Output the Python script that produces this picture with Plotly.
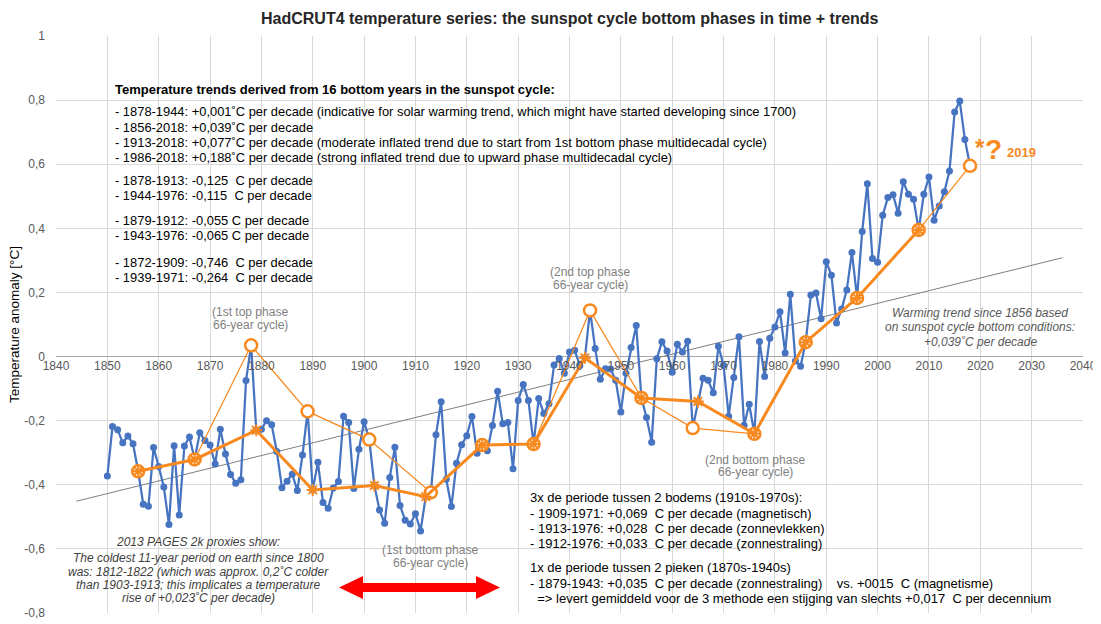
import plotly.graph_objects as go
import numpy as np

# ---------------- data ----------------
years = list(range(1850, 2019))
anomaly = [
    -0.373, -0.218, -0.228, -0.269, -0.248, -0.272, -0.358, -0.461, -0.467, -0.284,
    -0.343, -0.407, -0.524, -0.278, -0.494, -0.279, -0.251, -0.321, -0.238, -0.262,
    -0.276, -0.335, -0.227, -0.304, -0.368, -0.395, -0.384, -0.075, 0.035, -0.230,
    -0.227, -0.200, -0.213, -0.296, -0.409, -0.389, -0.367, -0.418, -0.307, -0.171,
    -0.416, -0.330, -0.455, -0.473, -0.410, -0.390, -0.186, -0.206, -0.412, -0.289,
    -0.203, -0.259, -0.402, -0.479, -0.520, -0.377, -0.283, -0.465, -0.511, -0.522,
    -0.490, -0.544, -0.437, -0.424, -0.244, -0.141, -0.383, -0.468, -0.333, -0.275,
    -0.247, -0.187, -0.302, -0.276, -0.294, -0.215, -0.108, -0.210, -0.206, -0.350,
    -0.137, -0.087, -0.137, -0.273, -0.131, -0.178, -0.147, -0.026, -0.006, -0.052,
    0.014, 0.020, -0.027, -0.004, 0.144, 0.025, -0.071, -0.038, -0.039, -0.074,
    -0.173, -0.052, 0.028, 0.097, -0.129, -0.190, -0.267, -0.007, 0.046, 0.017,
    -0.049, 0.038, 0.014, 0.048, -0.223, -0.140, -0.068, -0.074, -0.113, 0.032,
    -0.027, -0.186, -0.065, 0.062, -0.214, -0.149, -0.241, 0.047, -0.062, 0.057,
    0.092, 0.140, 0.011, 0.194, -0.014, -0.030, 0.045, 0.192, 0.198, 0.118,
    0.296, 0.254, 0.105, 0.148, 0.208, 0.325, 0.183, 0.390, 0.539, 0.306,
    0.294, 0.441, 0.496, 0.505, 0.447, 0.545, 0.506, 0.491, 0.395, 0.506,
    0.560, 0.425, 0.470, 0.514, 0.579, 0.763, 0.797, 0.677, 0.595,
]

# sunspot-cycle bottom years (thin line, open circles)
bottom_years = [1856, 1867, 1878, 1889, 1901, 1913, 1923, 1933, 1944, 1954,
                1964, 1976, 1986, 1996, 2008, 2018]
# alternative bottom years (thick line, star markers)
alt_bottom_years = [1856, 1867, 1879, 1890, 1902, 1912, 1923, 1933, 1943, 1954,
                    1965, 1976, 1986, 1996, 2008]

x_ticks = list(range(1840, 2041, 10))
y_ticks = [-0.8, -0.6, -0.4, -0.2, 0, 0.2, 0.4, 0.6, 0.8, 1]
y_tick_labels = ["-0,8", "-0,6", "-0,4", "-0,2", "0", "0,2", "0,4", "0,6", "0,8", "1"]

lookup = dict(zip(years, anomaly))
bottom_vals = [lookup[y] for y in bottom_years]
alt_bottom_vals = [lookup[y] for y in alt_bottom_years]

# linear trend of the 16 bottom years, extended back 12 and forward 18 years
slope, intercept = np.polyfit(bottom_years, bottom_vals, 1)
trend_x = [bottom_years[0] - 12, bottom_years[-1] + 18]
trend_y = [slope * x + intercept for x in trend_x]

# ---------------- styling ----------------
OFF = 8                      # page body margin
W, H = 1101 - OFF, 624 - OFF
L, R, T, B = 56 - OFF, 18, 36 - OFF, 11
PW, PH = W - L - R, H - T - B
PLOT_LEFT = L + OFF
PLOT_BOTTOM = OFF + H - B
BLUE = "#4674C1"
ORANGE = "#F7891F"
GRID = "#D9D9D9"
FONT = "Arial, Liberation Sans, sans-serif"


def fx(px):
    return (px - PLOT_LEFT) / PW


def fy(py):
    return (PLOT_BOTTOM - py) / PH


fig = go.Figure()

fig.add_trace(go.Scatter(x=trend_x, y=trend_y, mode="lines",
                         line=dict(color="#7F7F7F", width=1), hoverinfo="skip",
                         showlegend=False))
fig.add_trace(go.Scatter(x=years, y=anomaly, mode="lines+markers",
                         line=dict(color=BLUE, width=2.25),
                         marker=dict(color=BLUE, size=7), showlegend=False))
fig.add_trace(go.Scatter(x=bottom_years, y=bottom_vals, mode="lines+markers",
                         line=dict(color=ORANGE, width=1.25),
                         marker=dict(symbol="circle", size=12, color="white",
                                     line=dict(color=ORANGE, width=2.5)),
                         showlegend=False))
fig.add_trace(go.Scatter(x=alt_bottom_years, y=alt_bottom_vals, mode="lines+markers",
                         line=dict(color=ORANGE, width=3),
                         marker=dict(symbol="asterisk-open", size=10,
                                     line=dict(color=ORANGE, width=2)),
                         showlegend=False))

ann = []


def text(px, py, s, size=13, color="black", anchor="left", bold=False, italic=False):
    if bold:
        s = "<b>" + s + "</b>"
    if italic:
        s = "<i>" + s + "</i>"
    ann.append(dict(x=fx(px), y=fy(py), xref="paper", yref="paper", text=s,
                    showarrow=False, xanchor=anchor, yanchor="middle",
                    font=dict(family=FONT, size=size, color=color)))


# title
text(570, 18, "HadCRUT4 temperature series: the sunspot cycle bottom phases in time + trends",
     size=16, color="#262626", anchor="center", bold=True)
# y axis title
ann.append(dict(x=fx(14), y=fy(325), xref="paper", yref="paper",
                text="Temperature anomaly [°C]", textangle=-90, showarrow=False,
                xanchor="center", yanchor="middle",
                font=dict(family=FONT, size=13.5, color="black")))

# top-left block
text(113, 89, "Temperature trends derived from 16 bottom years in the sunspot cycle:", bold=True)
tl_lines = [
    (111, "- 1878-1944: +0,001˚C per decade (indicative for solar warming trend, which might have started developing since 1700)"),
    (127, "- 1856-2018: +0,039˚C per decade"),
    (142, "- 1913-2018: +0,077˚C per decade (moderate inflated trend due to start from 1st bottom phase multidecadal cycle)"),
    (157, "- 1986-2018: +0,188˚C per decade (strong inflated trend due to upward phase multidecadal cycle)"),
    (180, "- 1878-1913: -0,125  C per decade"),
    (195, "- 1944-1976: -0,115  C per decade"),
    (221, "- 1879-1912: -0,055 C per decade"),
    (236, "- 1943-1976: -0,065 C per decade"),
    (262, "- 1872-1909: -0,746  C per decade"),
    (277, "- 1939-1971: -0,264  C per decade"),
]
for py, s in tl_lines:
    text(113, py, s, size=12.9)

# bottom-right block
br_lines = [
    (497, "3x de periode tussen 2 bodems (1910s-1970s):"),
    (513, "- 1909-1971: +0,069  C per decade (magnetisch)"),
    (528, "- 1913-1976: +0,028  C per decade (zonnevlekken)"),
    (543, "- 1912-1976: +0,033  C per decade (zonnestraling)"),
    (567, "1x de periode tussen 2 pieken (1870s-1940s)"),
    (583, "- 1879-1943: +0,035  C per decade (zonnestraling)    vs. +0015  C (magnetisme)"),
    (598, "  => levert gemiddeld voor de 3 methode een stijging van slechts +0,017  C per decennium"),
]
for py, s in br_lines:
    text(528, py, s, size=13)

GRAY_T = "#7F7F7F"
# phase labels
for cx, ys, lines in [
    (250, (312, 325), ("(1st top phase", "66-year cycle)")),
    (590, (272, 285), ("(2nd top phase", "66-year cycle)")),
    (755, (460, 472), ("(2nd bottom phase", "66-year cycle)")),
    (430, (550, 563), ("(1st bottom phase", "66-year cycle)")),
]:
    for py, s in zip(ys, lines):
        text(cx, py, s, size=12, color=GRAY_T, anchor="center")

# warming trend note
for py, s in [(313, "Warming trend since 1856 based"),
              (327, "on sunspot cycle bottom conditions:"),
              (342, "+0,039˚C per decade")]:
    text(980, py, s, size=12, color="#595959", anchor="center", italic=True)

# PAGES note
for py, s in [(542, "2013 PAGES 2k proxies show:"),
              (558, "The coldest 11-year period on earth since 1800"),
              (572, "was: 1812-1822 (which was approx. 0,2˚C colder"),
              (585, "than 1903-1913; this implicates a temperature"),
              (598, "rise of +0,023˚C per decade)")]:
    text(198, py, s, size=12, color="#404040", anchor="center", italic=True)

# *? 2019
text(980, 147, "*", size=24, color=ORANGE, anchor="center", bold=True)
text(993, 149, "?", size=28, color=ORANGE, anchor="center", bold=True)
text(1005, 153, "2019", size=13, color=ORANGE, anchor="left", bold=True)

# red double arrow (pixel outline -> paper coords)
arrow_px = [(339, 587.5), (363, 576), (363, 583), (476, 583), (476, 576), (500, 587.5),
            (476, 599), (476, 592), (363, 592), (363, 599)]
path = "M " + " L ".join(f"{fx(a):.5f},{fy(b):.5f}" for a, b in arrow_px) + " Z"
shapes = [dict(type="path", xref="paper", yref="paper", path=path,
               fillcolor="#FF0000", line=dict(width=0))]

fig.update_layout(
    width=W, height=H,
    margin=dict(l=L, r=R, t=T, b=B, autoexpand=False),
    paper_bgcolor="white", plot_bgcolor="white",
    showlegend=False,
    annotations=ann, shapes=shapes,
    xaxis=dict(range=[1840, 2040], tickvals=x_ticks, showgrid=True, gridcolor=GRID,
               gridwidth=1, zeroline=False, showline=False, ticks="",
               anchor="free", position=0.8 / 1.8,
               tickfont=dict(family=FONT, size=12, color="#595959")),
    yaxis=dict(range=[-0.8, 1], tickvals=y_ticks, ticktext=y_tick_labels,
               showgrid=True, gridcolor=GRID, gridwidth=1, zeroline=True,
               zerolinecolor="#A6A6A6", zerolinewidth=1, showline=False, ticks="",
               ticklabelstandoff=10,
               tickfont=dict(family=FONT, size=12, color="#595959")),
)

fig.write_html("out.html")
